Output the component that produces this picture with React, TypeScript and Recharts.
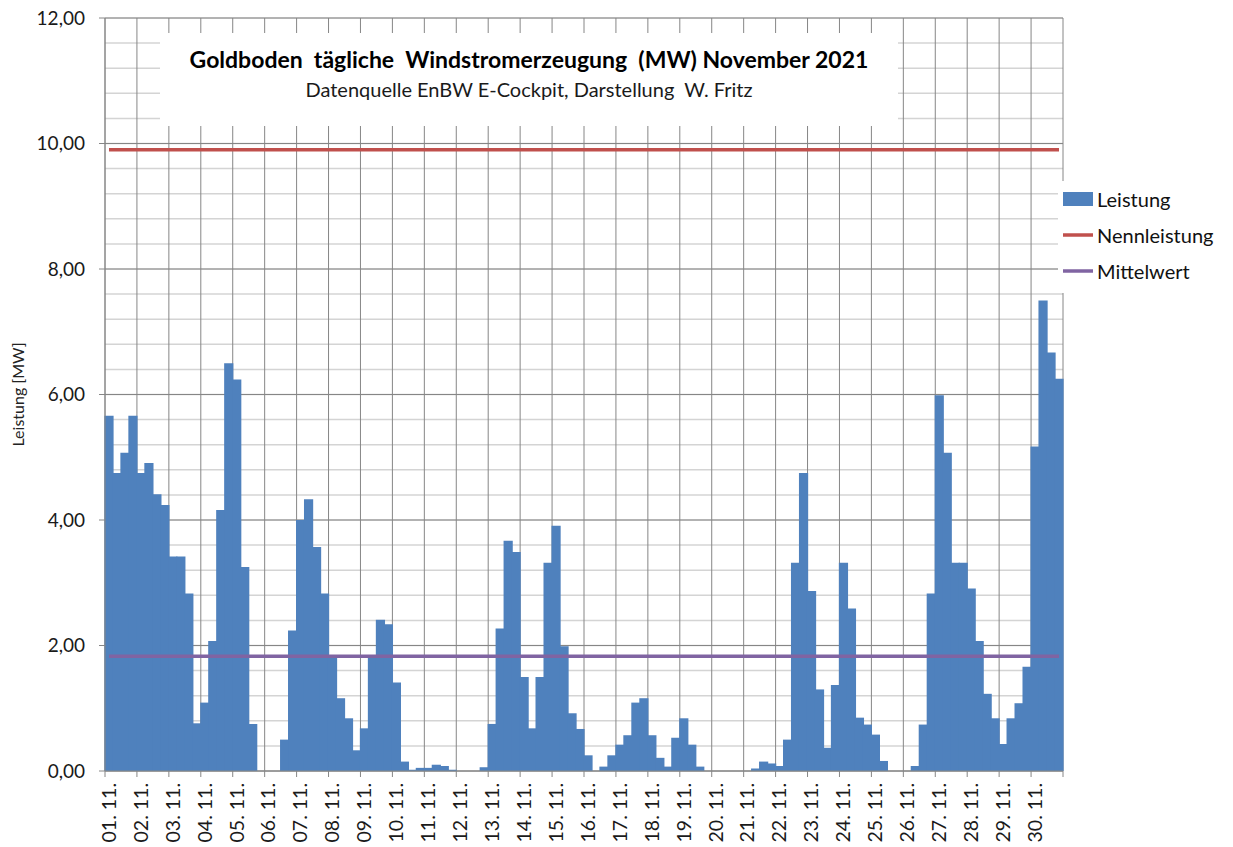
import {
  ComposedChart,
  Bar,
  Line,
  XAxis,
  YAxis,
  CartesianGrid,
  ReferenceLine,
  Legend,
  Label,
  Rectangle,
} from 'recharts';

const FONT = 'Lato, "Open Sans", sans-serif';
const AXIS = '#868686';
const MINOR = '#d4d4d4';

// tick labels on the x axis, one per day
const DAYS = [
  '01. 11.', '02. 11.', '03. 11.', '04. 11.', '05. 11.', '06. 11.',
  '07. 11.', '08. 11.', '09. 11.', '10. 11.', '11. 11.', '12. 11.',
  '13. 11.', '14. 11.', '15. 11.', '16. 11.', '17. 11.', '18. 11.',
  '19. 11.', '20. 11.', '21. 11.', '22. 11.', '23. 11.', '24. 11.',
  '25. 11.', '26. 11.', '27. 11.', '28. 11.', '29. 11.', '30. 11.',
];

// four 6-hour slots per day
const SLOTS = ['00-06', '06-12', '12-18', '18-24'];

// Leistung in MW, 4 values per day
const LEISTUNG = [
  5.66, 4.75, 5.07, 5.66, // 01.
  4.75, 4.91, 4.41, 4.24, // 02.
  3.42, 3.42, 2.83, 0.76, // 03.
  1.09, 2.07, 4.16, 6.5, // 04.
  6.24, 3.25, 0.75, 0, // 05.
  0, 0, 0.5, 2.24, // 06.
  4.0, 4.33, 3.57, 2.83, // 07.
  1.85, 1.16, 0.84, 0.33, // 08.
  0.68, 1.85, 2.41, 2.34, // 09.
  1.41, 0.15, 0.02, 0.05, // 10.
  0.05, 0.1, 0.08, 0.02, // 11.
  0, 0, 0, 0.06, // 12.
  0.75, 2.27, 3.67, 3.49, // 13.
  1.5, 0.68, 1.5, 3.32, // 14.
  3.91, 1.99, 0.92, 0.67, // 15.
  0.25, 0, 0.07, 0.25, // 16.
  0.42, 0.57, 1.09, 1.16, // 17.
  0.57, 0.21, 0.07, 0.53, // 18.
  0.84, 0.42, 0.07, 0, // 19.
  0, 0, 0, 0, // 20.
  0, 0.04, 0.15, 0.12, // 21.
  0.08, 0.5, 3.32, 4.75, // 22.
  2.87, 1.3, 0.37, 1.37, // 23.
  3.32, 2.59, 0.85, 0.74, // 24.
  0.58, 0.16, 0, 0, // 25.
  0, 0.08, 0.74, 2.83, // 26.
  5.99, 5.07, 3.32, 3.32, // 27.
  2.91, 2.07, 1.23, 0.84, // 28.
  0.43, 0.84, 1.08, 1.66, // 29.
  5.17, 7.5, 6.67, 6.25, // 30.
];

const NENNLEISTUNG = 9.9;
const MITTELWERT = 1.83;

const SERIES_ORDER = ['Leistung', 'Nennleistung', 'Mittelwert'];

const Y_TICKS = [0, 2, 4, 6, 8, 10, 12];
const MINOR_STEP = 0.2;

const data = DAYS.flatMap((day, d) =>
  SLOTS.map((slot, s) => ({
    key: `${day}|${slot}`,
    leistung: LEISTUNG[d * SLOTS.length + s],
    nenn: NENNLEISTUNG,
    mittel: MITTELWERT,
  }))
);
const dayStarts = DAYS.map((day) => `${day}|${SLOTS[0]}`);
const lastKey = data[data.length - 1].key;
const minorValues = Array.from(
  { length: Math.round(12 / MINOR_STEP) + 1 },
  (_, i) => +(i * MINOR_STEP).toFixed(1)
);

const WIDTH = 1233;
const HEIGHT = 847;
const MARGIN = { top: 18, right: 170, bottom: 0, left: 0 };
const Y_WIDTH = 105;
const PLOT_W = WIDTH - MARGIN.left - MARGIN.right - Y_WIDTH;
const BAND = PLOT_W / data.length;

// close the sub-pixel seams between neighbouring bars
function BarShape(props: any) {
  const { x, y, width, height, fill } = props;
  if (!height || height <= 0) return null;
  return <Rectangle x={x - 0.6} y={y} width={width + 1.2} height={height} fill={fill} />;
}

function DayTick(props: any) {
  const { x, y, payload } = props;
  const label = String(payload.value).split('|')[0];
  const edge = x - BAND / 2;
  const isLast = label === DAYS[DAYS.length - 1];
  return (
    <g>
      <line x1={edge} x2={edge} y1={y - 12} y2={y - 6} stroke={AXIS} />
      {isLast && (
        <line
          x1={edge + BAND * SLOTS.length}
          x2={edge + BAND * SLOTS.length}
          y1={y - 12}
          y2={y - 6}
          stroke={AXIS}
        />
      )}
      <text
        x={x}
        y={y}
        transform={`rotate(-90 ${x} ${y})`}
        textAnchor="end"
        dy="0.35em"
        fontSize={19.5}
        fontFamily={FONT}
        fill="#1a1a1a"
      >
        {label}
      </text>
    </g>
  );
}

function LegendBox({ payload }: any) {
  return (
    <div
      style={{
        background: '#fff',
        fontFamily: FONT,
        fontSize: 20,
        color: '#111',
        padding: '0 0 4px 5px',
      }}
    >
      {(payload ?? []).map((entry: any) => (
        <div
          key={entry.value}
          style={{ display: 'flex', alignItems: 'center', height: 36 }}
        >
          <svg width={30} height={16} style={{ display: 'block' }}>
            {entry.type === 'rect' ? (
              <rect x={0} y={1} width={30} height={14} fill={entry.color} />
            ) : (
              <line x1={0} x2={30} y1={8} y2={8} stroke={entry.color} strokeWidth={3.5} />
            )}
          </svg>
          <span style={{ marginLeft: 4 }}>{entry.value}</span>
        </div>
      ))}
    </div>
  );
}

export default function App() {
  return (
    <div
      style={{
        position: 'absolute',
        left: 0,
        top: 0,
        width: WIDTH,
        height: HEIGHT,
        background: '#fff',
      }}
    >
      <ComposedChart
        width={WIDTH}
        height={HEIGHT}
        data={data}
        margin={MARGIN}
        barCategoryGap={0}
        barGap={0}
      >
        <CartesianGrid
          horizontalValues={minorValues}
          vertical={false}
          stroke={MINOR}
          strokeWidth={1.5}
        />
        <CartesianGrid horizontalValues={Y_TICKS} vertical={false} stroke={AXIS} />
        {dayStarts.map((k) => (
          <ReferenceLine
            key={k}
            x={k}
            position="start"
            stroke={AXIS}
            zIndex={-50}
          />
        ))}
        <ReferenceLine x={lastKey} position="end" stroke={AXIS} zIndex={-50} />
        <XAxis
          dataKey="key"
          ticks={dayStarts}
          interval={0}
          tick={<DayTick />}
          tickLine={false}
          tickSize={0}
          tickMargin={12}
          height={76}
          stroke={AXIS}
        />
        <YAxis
          domain={[0, 12]}
          ticks={Y_TICKS}
          width={Y_WIDTH}
          stroke={AXIS}
          tickSize={6}
          tickMargin={14}
          tick={{ fontSize: 19, fontFamily: FONT, fill: '#1a1a1a' }}
          tickFormatter={(v) => Number(v).toFixed(2).replace('.', ',')}
        >
          <Label
            content={({ viewBox }: any) => {
              const cy = viewBox ? viewBox.y + viewBox.height / 2 : 394;
              return (
                <text
                  x={18}
                  y={cy}
                  transform={`rotate(-90 18 ${cy})`}
                  textAnchor="middle"
                  dy="0.35em"
                  fontSize={16}
                  fontFamily={FONT}
                  fill="#222"
                >
                  Leistung [MW]
                </text>
              );
            }}
          />
        </YAxis>
        <Bar
          dataKey="leistung"
          name="Leistung"
          fill="#4f81bd"
          shape={<BarShape />}
          isAnimationActive={false}
        />
        <Line
          dataKey="nenn"
          name="Nennleistung"
          stroke="#c0504d"
          strokeWidth={3.5}
          dot={false}
          activeDot={false}
          isAnimationActive={false}
        />
        <Line
          dataKey="mittel"
          name="Mittelwert"
          stroke="#8064a2"
          strokeWidth={3.5}
          dot={false}
          activeDot={false}
          isAnimationActive={false}
        />
        <Legend
          layout="vertical"
          align="center"
          verticalAlign="middle"
          itemSorter={(item: any) => SERIES_ORDER.indexOf(item.value)}
          content={<LegendBox />}
          wrapperStyle={{ left: 1058, top: 181, width: 175 }}
        />
      </ComposedChart>
      <div
        style={{
          position: 'absolute',
          left: 160,
          top: 33,
          width: 738,
          height: 93,
          background: '#fff',
          fontFamily: FONT,
          color: '#000',
          textAlign: 'center',
        }}
      >
        <div
          style={{
            position: 'absolute',
            left: 0,
            right: 0,
            top: 15,
            fontSize: 23,
            lineHeight: '23px',
            fontWeight: 700,
            whiteSpace: 'pre',
          }}
        >
          {'Goldboden  tägliche  Windstromerzeugung  (MW) November 2021'}
        </div>
        <div
          style={{
            position: 'absolute',
            left: 0,
            right: 0,
            top: 46,
            fontSize: 20,
            lineHeight: '20px',
            color: '#1a1a1a',
            whiteSpace: 'pre',
          }}
        >
          {'Datenquelle EnBW E-Cockpit, Darstellung  W. Fritz'}
        </div>
      </div>
    </div>
  );
}
